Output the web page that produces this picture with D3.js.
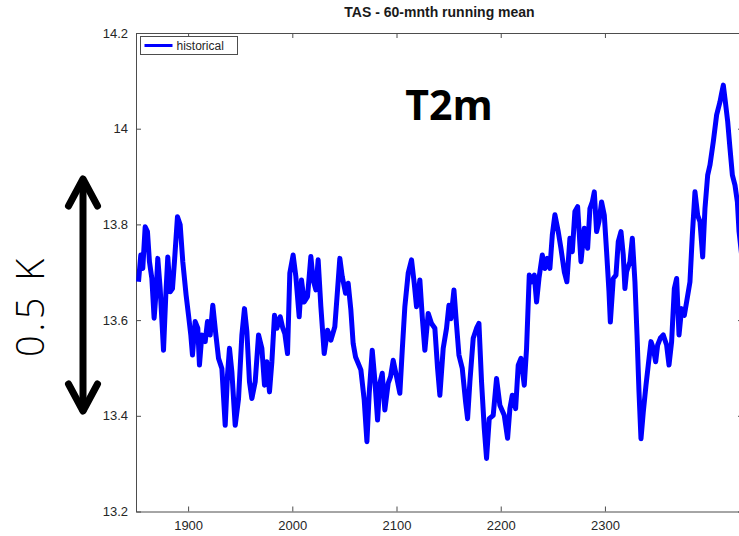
<!DOCTYPE html>
<html lang="en">
<meta charset="utf-8">
<title>TAS - 60-mnth running mean</title>
<style>
	body { margin: 0; background: #fff; }
	svg { display: block; font-family: "Liberation Sans", Arial, sans-serif; }
	.tick text { fill: #262626; }
</style>
<body>
<script src="https://cdn.jsdelivr.net/npm/d3@7"></script>
<svg class="chart"></svg>
<script>
// values (years, 60-month running mean of TAS in deg C)
var years = [1852.4,1854.6,1856.5,1858.8,1861.0,1862.9,1865.2,1867.4,1869.3,1870.9,1873.2,1876.4,1878.6,1880.5,1882.8,1885.0,1886.9,1889.8,1892.4,1894.9,1898.1,1900.4,1902.6,1904.2,1906.8,1909.3,1910.9,1913.2,1916.4,1918.6,1921.2,1923.7,1926.3,1929.2,1932.4,1935.6,1937.8,1939.7,1942.0,1945.2,1948.4,1951.6,1954.1,1956.4,1958.9,1961.2,1964.4,1967.6,1970.8,1973.3,1975.6,1978.1,1980.4,1982.9,1985.2,1988.4,1990.9,
	1992.8,1995.4,1997.6,2000.8,2003.4,2006.6,2008.8,2011.4,2014.6,2017.8,2020.0,2022.6,2024.8,2027.4,2030.6,2033.8,2037.0,2040.8,2043.4,2045.6,2047.9,2051.1,2053.6,2056.2,2058.4,2060.7,2063.2,2065.8,2069.0,2071.6,2073.8,2076.7,2079.2,2081.8,2084.0,2086.3,2088.8,2092.0,2094.3,2096.8,2100.0,2103.2,2105.5,2108.0,2111.2,2114.4,2117.0,2119.2,2122.4,2124.7,2127.2,2130.4,2133.6,
	2136.8,2139.4,2141.6,2144.8,2148.0,2150.3,2152.2,2155.1,2157.6,2159.9,2163.1,2166.3,2168.2,2170.4,2173.6,2176.8,2179.1,2181.6,2184.2,2186.4,2189.0,2192.8,2196.0,2199.2,2203.4,2206.6,2208.8,2211.1,2214.3,2216.8,2219.4,2222.6,2224.8,2227.4,2229.6,2232.2,2234.4,2236.7,2239.9,2242.4,2244.7,2247.2,2249.5,2252.0,2255.2,2257.8,2261.0,2263.5,2266.4,2268.7,2271.2,2273.8,2277.0,2280.2,
	2283.4,2285.6,2287.9,2289.8,2292.0,2294.3,2296.8,2299.4,2301.6,2303.9,2305.2,2308.0,2310.6,2312.8,2315.4,2317.6,2319.2,2320.8,2324.0,2326.3,2328.8,2330.8,2332.7,2334.6,2336.8,2339.4,2341.6,2344.2,2346.4,2348.7,2350.6,2353.1,2356.0,2359.2,2361.5,2364.0,2366.6,2368.8,2371.1,2373.6,2376.2,2378.4,2381.6,2383.9,2386.4,2389.0,2391.2,2393.8,2396.0,2398.6,2400.8,2404.0,2407.2,2410.4,2412.0,2413.6,2415.2,2417.8,2420.0,2422.3,2424.8,2427.1,2428.7,2431.0];
var tas = [13.680,13.736,13.708,13.795,13.785,13.722,13.687,13.604,13.659,13.729,13.666,13.537,13.652,13.732,13.659,13.666,13.722,13.816,13.799,13.722,13.652,13.610,13.569,13.527,13.597,13.583,13.506,13.569,13.555,13.597,13.569,13.631,13.576,13.520,13.499,13.380,13.485,13.541,13.492,13.380,13.436,13.569,13.624,13.576,13.471,13.436,13.471,13.569,13.541,13.464,13.513,13.450,13.513,13.610,13.583,13.607,13.583,
	13.572,13.530,13.698,13.736,13.691,13.607,13.684,13.638,13.649,13.733,13.684,13.663,13.726,13.628,13.530,13.579,13.558,13.586,13.663,13.729,13.691,13.656,13.677,13.621,13.551,13.523,13.510,13.496,13.433,13.346,13.447,13.537,13.475,13.391,13.468,13.489,13.412,13.468,13.482,13.516,13.482,13.447,13.537,13.628,13.698,13.726,13.677,13.628,13.684,13.607,13.537,13.614,13.593,
	13.583,13.499,13.443,13.541,13.583,13.631,13.603,13.663,13.590,13.527,13.499,13.429,13.394,13.471,13.562,13.583,13.593,13.471,13.374,13.311,13.394,13.401,13.478,13.422,13.401,13.353,13.415,13.443,13.415,13.506,13.520,13.464,13.541,13.694,13.680,13.694,13.638,13.687,13.736,13.708,13.729,13.708,13.778,13.820,13.785,13.750,13.701,13.680,13.771,13.743,13.827,13.837,13.722,13.792,
	13.750,13.833,13.847,13.868,13.785,13.806,13.847,13.819,13.743,13.659,13.596,13.687,13.694,13.764,13.785,13.736,13.666,13.701,13.722,13.771,13.680,13.569,13.450,13.352,13.408,13.464,13.506,13.555,13.541,13.513,13.548,13.562,13.569,13.548,13.506,13.555,13.666,13.687,13.569,13.624,13.610,13.638,13.680,13.778,13.868,13.819,13.806,13.732,13.833,13.903,13.924,13.973,14.029,14.056,14.074,14.091,14.063,14.015,13.959,13.903,13.882,13.847,13.785,13.740];

var xTicks = [1900, 2000, 2100, 2200, 2300];
var yTicks = [13.2, 13.4, 13.6, 13.8, 14, 14.2];
var seriesName = "historical";
var chartTitle = "TAS - 60-mnth running mean";

var margin = {top: 33, right: -4, bottom: 24.5, left: 136},
    W = 739, H = 536,
    width = W - margin.left - margin.right,
    height = H - margin.top - margin.bottom;

var svg = d3.select(".chart")
    .attr("width", W)
    .attr("height", H);

var g = svg.append("g")
    .attr("transform", "translate(" + margin.left + "," + margin.top + ")");

var x = d3.scaleLinear().domain([1850, 2432.5]).range([0, width]);
var y = d3.scaleLinear().domain([13.2, 14.2]).range([height, 0]);

// axes, ticks pointing inward like matlab
function styleAxis(sel) {
  sel.select(".domain").attr("stroke", "#4d4d4d");
  sel.selectAll(".tick line").attr("stroke", "#4d4d4d");
  sel.selectAll(".tick text").style("font-size", "13px");
}

g.append("g")
    .attr("transform", "translate(0," + height + ")")
    .call(d3.axisBottom(x).tickValues(xTicks).tickFormat(d3.format("d")).tickSizeInner(-5).tickSizeOuter(0).tickPadding(9))
    .call(styleAxis);

g.append("g")
    .call(d3.axisTop(x).tickValues(xTicks).tickFormat("").tickSizeInner(-5).tickSizeOuter(0))
    .call(styleAxis);

g.append("g")
    .call(d3.axisLeft(y).tickValues(yTicks).tickFormat(d3.format("")).tickSizeInner(-5).tickSizeOuter(0).tickPadding(8))
    .call(styleAxis);

g.append("g")
    .attr("transform", "translate(" + width + ",0)")
    .call(d3.axisRight(y).tickValues(yTicks).tickFormat("").tickSizeInner(-5).tickSizeOuter(0))
    .call(styleAxis);

// the series
var data = years.map(function(d, i) { return {year: d, v: tas[i]}; });

g.append("clipPath").attr("id", "clip")
  .append("rect").attr("width", width).attr("height", height);

g.append("path")
    .datum(data)
    .attr("clip-path", "url(#clip)")
    .attr("fill", "none")
    .attr("stroke", "#0000ff")
    .attr("stroke-width", 5)
    .attr("stroke-linejoin", "round")
    .attr("d", d3.line().x(function(d) { return x(d.year); }).y(function(d) { return y(d.v); }));

// legend
var lg = g.append("g").attr("transform", "translate(4.5,3.5)");
lg.append("rect").attr("width", 97).attr("height", 18)
    .attr("fill", "#fff").attr("stroke", "#4d4d4d");
lg.append("line").attr("x1", 4).attr("x2", 32).attr("y1", 9).attr("y2", 9)
    .attr("stroke", "#0000ff").attr("stroke-width", 3);
lg.append("text").attr("x", 36).attr("y", 13.5)
    .style("font-size", "12px").attr("fill", "#262626")
    .text(seriesName);

// title
svg.append("text")
    .attr("x", margin.left + width / 2)
    .attr("y", 17)
    .attr("text-anchor", "middle")
    .style("font-size", "14px").style("font-weight", "bold").attr("fill", "#1a1a1a")
    .text(chartTitle);

// annotations
svg.append("text")
    .attr("x", 449).attr("y", 120)
    .attr("text-anchor", "middle")
    .style("font-family", "'Open Sans', sans-serif")
    .style("font-size", "41px").style("font-weight", "bold")
    .text("T2m");

svg.append("text")
    .attr("transform", "translate(44,306) rotate(-90)")
    .attr("text-anchor", "middle")
    .style("font-family", "'Open Sans', sans-serif")
    .style("font-size", "38px").style("font-weight", 300)
    .style("letter-spacing", "3.5px")
    .text("0.5 K");

var arrow = svg.append("g")
    .attr("fill", "none").attr("stroke", "#000")
    .attr("stroke-width", 7).attr("stroke-linecap", "round").attr("stroke-linejoin", "round");
arrow.append("line").attr("x1", 83).attr("x2", 83).attr("y1", 181).attr("y2", 410);
arrow.append("path").attr("d", "M68.5,206 L83,179 L97.5,206");
arrow.append("path").attr("d", "M68.5,384 L83,411 L97.5,384");
</script>
</body>
</html>
